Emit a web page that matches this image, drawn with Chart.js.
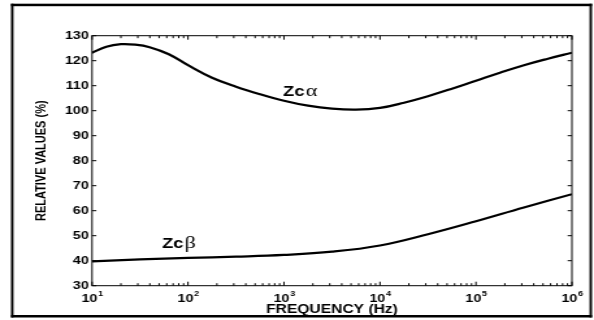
<!DOCTYPE html>
<html>
<head>
<meta charset="utf-8">
<script src="https://cdn.jsdelivr.net/npm/chart.js@4/dist/chart.umd.min.js"></script>
<style>
  html, body { margin: 0; padding: 0; background: #fff; overflow: hidden; }
  canvas { display: block; }
</style>
</head>
<body>
<!-- drawn on a 457px-wide bitmap and shown 594px wide (horizontal stretch) -->
<canvas id="chart" width="457" height="320" style="width:594px;height:320px"></canvas>
<script>
// Zc alpha: frequency (Hz) and relative value (%)
const alphaFreq = [10, 14.1, 20, 28.2, 39.8, 63.1, 100, 178, 316, 562, 1000, 1780, 3160, 5620,
                   10000, 17800, 31600, 56200, 100000, 178000, 316000, 562000, 1000000];
const alphaVals = [123.2, 125.6, 126.6, 126.4, 125.4, 122.6, 118.2, 113.2, 109.6, 106.6, 104.0, 102.0, 100.8, 100.4,
                   101.1, 103.2, 105.8, 108.8, 112.0, 115.2, 118.2, 120.8, 123.2];

// Zc beta: frequency (Hz) and relative value (%)
const betaFreq = [10, 31.6, 100, 316, 1000, 3160, 10000, 31600, 100000, 316000, 1000000];
const betaVals = [39.7, 40.5, 41.1, 41.6, 42.3, 43.6, 46.1, 50.6, 55.8, 61.3, 66.6];

// Axis ticks
const xTickValues = [10, 100, 1000, 10000, 100000, 1000000];
const xTickExponents = ['1', '2', '3', '4', '5', '6'];
const yMin = 30, yMax = 130, yStep = 10;

// Curve names
const curveLabels = [
  { base: 'Zc', greek: '\u03B1', freq: 980, value: 105.9 },
  { base: 'Zc', greek: '\u03B2', freq: 53.6, value: 45.1 }
];

const SANS = "'Liberation Sans', Arial, Helvetica, sans-serif";
const SERIF = "'Liberation Serif', 'Times New Roman', serif";
const STRETCH = 594 / 457;

function toPoints(xs, ys) { return xs.map((f, i) => ({ x: f, y: ys[i] })); }

const decor = {
  id: 'decor',
  afterDraw(chart) {
    const { ctx, chartArea: a, scales: { x, y } } = chart;
    ctx.save();

    // plot box
    ctx.strokeStyle = '#000';
    ctx.lineWidth = 1;
    ctx.strokeRect(a.left, a.top, a.right - a.left, a.bottom - a.top);

    // inward ticks
    ctx.beginPath();
    y.ticks.forEach(t => {
      const py = y.getPixelForValue(t.value);
      ctx.moveTo(a.left, py); ctx.lineTo(a.left + 3.3, py);
      ctx.moveTo(a.right, py); ctx.lineTo(a.right - 3.3, py);
    });
    xTickValues.forEach(d => {
      for (let m = 1; m <= 9; m++) {
        const v = d * m;
        if (v > x.max) break;
        const px = x.getPixelForValue(v);
        const len = m === 1 ? 4 : 2.5;
        ctx.moveTo(px, a.bottom); ctx.lineTo(px, a.bottom - len);
        ctx.moveTo(px, a.top); ctx.lineTo(px, a.top + len);
      }
    });
    ctx.stroke();

    // decade labels 10^n
    ctx.fillStyle = '#000';
    ctx.textBaseline = 'alphabetic';
    ctx.textAlign = 'left';
    xTickValues.forEach((v, i) => {
      const px = x.getPixelForValue(v);
      ctx.font = 'bold 11px ' + SANS;
      const w1 = ctx.measureText('10').width;
      ctx.font = 'bold 7px ' + SANS;
      const w2 = ctx.measureText(xTickExponents[i]).width;
      const x0 = px - (w1 + w2) / 2;
      ctx.font = 'bold 11px ' + SANS;
      ctx.fillText('10', x0, 301.5);
      ctx.font = 'bold 7px ' + SANS;
      ctx.fillText(xTickExponents[i], x0 + w1 + 0.5, 295.5);
    });

    // curve names
    curveLabels.forEach(l => {
      const px = x.getPixelForValue(l.freq);
      const py = y.getPixelForValue(l.value);
      ctx.font = 'bold 14px ' + SANS;
      ctx.fillText(l.base, px, py);
      const w = ctx.measureText(l.base).width;
      ctx.font = '17px ' + SERIF;
      ctx.fillText(l.greek, px + w + 1, py);
    });

    // outer frame
    const s = STRETCH;
    ctx.fillRect(11 / s, 3.7, (592 - 11) / s, 2.5);
    ctx.fillRect(11 / s, 315, (592 - 11) / s, 2.5);
    ctx.fillRect(11 / s, 3.7, 2.5 / s, 313.8);
    ctx.fillRect(589.5 / s, 3.7, 2.5 / s, 313.8);

    ctx.restore();
  }
};

new Chart(document.getElementById('chart'), {
  type: 'line',
  data: {
    datasets: [
      { data: toPoints(alphaFreq, alphaVals), borderColor: '#000', borderWidth: 2.2,
        pointRadius: 0, tension: 0.4, fill: false },
      { data: toPoints(betaFreq, betaVals), borderColor: '#000', borderWidth: 2.2,
        pointRadius: 0, tension: 0.4, fill: false }
    ]
  },
  options: {
    responsive: false,
    animation: false,
    devicePixelRatio: 1,
    layout: { padding: { top: 35.7, right: 17, bottom: 0, left: 0 } },
    plugins: { legend: { display: false }, tooltip: { enabled: false } },
    scales: {
      x: {
        type: 'logarithmic',
        min: 10, max: 1000000,
        grid: { display: false },
        border: { display: false },
        ticks: { display: false },
        title: {
          display: true, text: 'FREQUENCY (Hz)', color: '#000',
          font: { family: SANS, size: 12, weight: 'bold' },
          padding: { top: 0, bottom: 3.2 }
        },
        afterFit(scale) { scale.height = 34.3; }
      },
      y: {
        min: yMin, max: yMax,
        grid: { display: false, drawTicks: false },
        border: { display: false },
        ticks: {
          stepSize: yStep, padding: 2.5, color: '#000',
          font: { family: SANS, size: 11, weight: 'bold' }
        },
        title: {
          display: true, text: 'RELATIVE VALUES (%)', color: '#000',
          font: { family: SANS, size: 11, weight: 'bold' },
          padding: { top: 25.7, bottom: 0 }
        },
        afterFit(scale) { scale.width = 70.8; }
      }
    }
  },
  plugins: [decor]
});
</script>
</body>
</html>
